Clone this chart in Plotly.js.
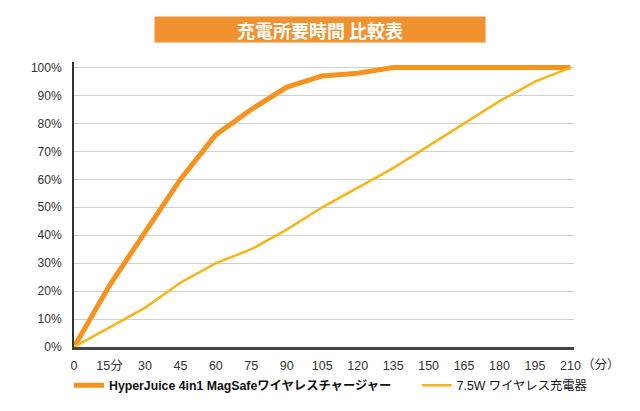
<!DOCTYPE html>
<html><head><meta charset="utf-8">
<script src="https://cdn.plot.ly/plotly-3.0.1.min.js"></script>
<style>html,body{margin:0;padding:0;background:#fff}#c{width:640px;height:411px}</style>
</head><body><div id="c"></div>
<script>
const minutes = [0,15,30,45,60,75,90,105,120,135,150,165,180,195,210];
const tickLabels = ['0','15分','30','45','60','75','90','105','120','135','150','165','180','195','210'];
const hyperJuice = [0,22,41,60,76,85,93,97,98,100,100,100,100,100,100];
const wireless75 = [0,7,14,23,30,35,42,50,57,64,72,80,88,95,100];
const yTicks = [0,10,20,30,40,50,60,70,80,90,100];
const yTickLabels = yTicks.map(v => v + '%');
const seriesNames = ['<b>HyperJuice 4in1 MagSafeワイヤレスチャージャー</b>', '7.5W ワイヤレス充電器'];
const titleText = '<b>充電所要時間 比較表</b>';

const FONT = 'Liberation Sans, Arial, Noto Sans CJK JP, sans-serif';
const PAD = '&nbsp;'.repeat(6);
const traces = [
  {x: minutes, y: hyperJuice, name: seriesNames[0] + PAD, mode: 'lines', line: {color: '#F7921E', width: 5}},
  {x: minutes, y: wireless75, name: seriesNames[1], mode: 'lines', line: {color: '#F6B519', width: 2.5}}
];
const layout = {
  width: 640, height: 411,
  margin: {l: 74, r: 66, t: 62, b: 63},
  paper_bgcolor: '#fff', plot_bgcolor: '#fff',
  font: {family: FONT, size: 12, color: '#333'},
  showlegend: true,
  legend: {orientation: 'h', x: -0.01, xanchor: 'left', y: -0.13, yanchor: 'middle',
           font: {family: FONT, size: 12.3, color: '#111'}, traceorder: 'normal'},
  xaxis: {range: [0, 211.5], tickvals: minutes, ticktext: tickLabels, showgrid: false, zeroline: false,
          showline: true, linecolor: '#444', linewidth: 3, ticks: '', ticklabelstandoff: 5,
          tickfont: {size: 12.5, color: '#333'}},
  yaxis: {range: [0, 102], tickvals: yTicks, ticktext: yTickLabels, showgrid: true, gridcolor: '#cfcfcf', gridwidth: 1,
          zeroline: false, showline: true, linecolor: '#333', linewidth: 2, ticks: '', ticklabelstandoff: 8,
          tickfont: {size: 12, color: '#333'}},
  annotations: [
    {xref: 'paper', yref: 'paper', x: 0.4915, y: 1.115, xanchor: 'center', yanchor: 'middle',
     text: titleText, showarrow: false, bgcolor: '#F0922F', width: 330, height: 25, borderpad: 0,
     font: {family: 'Noto Sans CJK JP, sans-serif', size: 18, color: '#fff'}},
    {xref: 'x', yref: 'paper', x: 210, y: 0, xanchor: 'left', yanchor: 'top', xshift: 10, yshift: -9,
     text: '（分）', showarrow: false, font: {family: FONT, size: 12.5, color: '#333'}}
  ]
};
Plotly.newPlot('c', traces, layout, {displayModeBar: false, staticPlot: true});
</script></body></html>
